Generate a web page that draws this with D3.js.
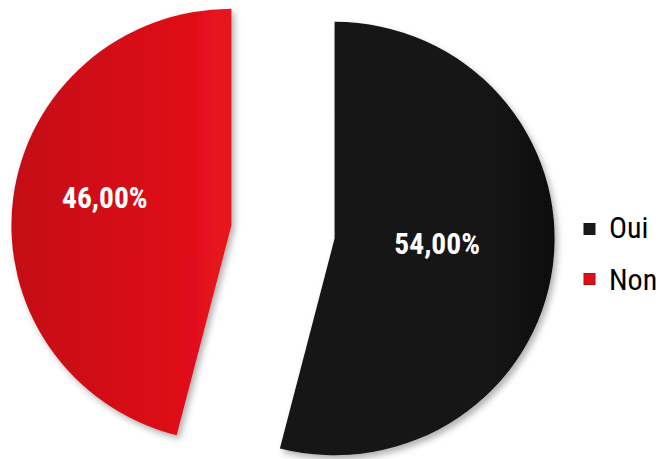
<!DOCTYPE html>
<html><head><meta charset="utf-8">
<script src="https://cdn.jsdelivr.net/npm/d3@7"></script>
<style>html,body{margin:0;padding:0;background:#fff;}svg{display:block;}</style>
</head><body>
<svg id="chart" width="660" height="459"></svg>
<script>
const categories = ["Oui", "Non"];
const values = [54, 46];
const labels = ["54,00%", "46,00%"];

const svg = d3.select("#chart");
const cx = 283, cy = 232, R = 220, explode = 52;
const labelRadius = {"Oui": 0.47, "Non": 0.58};
const labelLift = {"Oui": -8, "Non": -12};

const defs = svg.append("defs");
const gR = defs.append("linearGradient").attr("id","gradNon").attr("x1","0%").attr("x2","100%").attr("y1","0%").attr("y2","0%");
gR.append("stop").attr("offset","0%").attr("stop-color","#c40b14");
gR.append("stop").attr("offset","60%").attr("stop-color","#d80e18");
gR.append("stop").attr("offset","100%").attr("stop-color","#e8131b");
const gB = defs.append("linearGradient").attr("id","gradOui").attr("x1","0%").attr("x2","100%").attr("y1","0%").attr("y2","0%");
gB.append("stop").attr("offset","0%").attr("stop-color","#151515");
gB.append("stop").attr("offset","100%").attr("stop-color","#111111");
const f = defs.append("filter").attr("id","shadow").attr("x","-10%").attr("y","-10%").attr("width","130%").attr("height","130%");
f.append("feDropShadow").attr("dx",3).attr("dy",4).attr("stdDeviation",3).attr("flood-color","#000").attr("flood-opacity",0.3);

const fills = {"Oui":"url(#gradOui)","Non":"url(#gradNon)"};
const colorsLegend = {"Oui":"#1a1a1a","Non":"#dc1018"};
const FONT = "'Liberation Sans Narrow','Arial Narrow','Roboto Condensed','Liberation Sans',Arial,sans-serif";

const pie = d3.pie().sort(null).value(d => d.v);
const data = categories.map((c,i)=>({c, v: values[i], l: labels[i]}));
const arcs = pie(data);
const arc = d3.arc().innerRadius(0).outerRadius(R);

const g = svg.append("g");
arcs.forEach(a => {
  const mid = (a.startAngle + a.endAngle)/2;
  const dx = Math.sin(mid)*explode, dy = -Math.cos(mid)*explode;
  const sg = g.append("g").attr("transform", `translate(${cx+dx},${cy+dy}) scale(1,0.985)`);
  sg.append("path").attr("d", arc(a)).attr("fill", fills[a.data.c]).attr("filter","url(#shadow)");
  const lr = R*labelRadius[a.data.c];
  const lc = [Math.sin(mid)*lr, -Math.cos(mid)*lr + labelLift[a.data.c]];
  sg.append("text")
    .attr("x", lc[0]).attr("y", lc[1])
    .attr("text-anchor","middle").attr("dy","0.36em")
    .attr("fill","#fff").attr("font-family",FONT)
    .attr("font-weight","bold").attr("font-size",29.5)
    .text(a.data.l);
});

// legend
const leg = svg.append("g");
categories.forEach((c,i) => {
  const y = 229 + i*50;
  leg.append("rect").attr("x",584).attr("y",y-5.5).attr("width",11).attr("height",11)
    .attr("fill",colorsLegend[c]).attr("stroke", d3.color(colorsLegend[c]).darker(0.6)).attr("stroke-width",1);
  leg.append("text").attr("x",609).attr("y",y - (i===0?2:0)).attr("dy","0.36em")
    .attr("font-family",FONT)
    .attr("font-size",30).attr("fill","#000").text(c);
});
</script>
</body></html>
